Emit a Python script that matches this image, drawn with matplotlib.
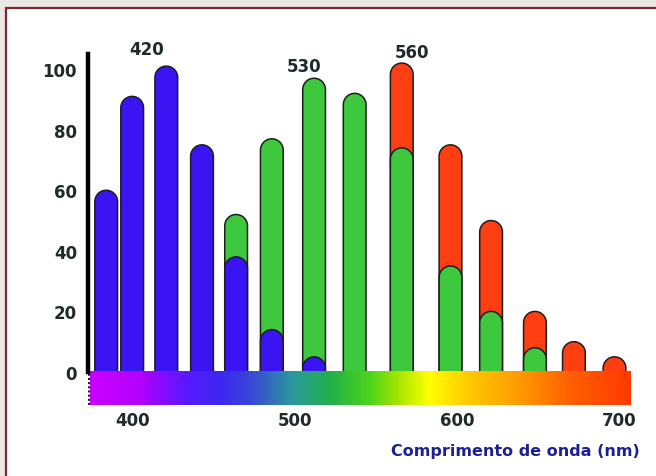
import numpy as np
import matplotlib
matplotlib.use("Agg")
import matplotlib.pyplot as plt
from matplotlib.patches import Polygon, Rectangle
from matplotlib.colors import LinearSegmentedColormap

# ---------------- data ----------------
wavelengths = [384, 400, 421, 443, 464, 486, 512, 537, 566, 596, 621, 648, 672, 697]
blue_part  = [60, 91, 101, 75, 38, 14, 5, 0, 0, 0, 0, 0, 0, 0]
green_part = [0, 0, 0, 0, 14, 63, 92, 92, 74, 35, 20, 8, 0, 0]
red_part   = [0, 0, 0, 0, 0, 0, 0, 0, 28, 40, 30, 12, 10, 5]

peak_labels = ["420", "530", "560"]
peak_label_x = [409, 506, 572]
peak_label_y = [106.5, 101, 105.5]

x_ticks = [400, 500, 600, 700]
y_ticks = [0, 20, 40, 60, 80, 100]

spec_nm = [374, 404, 432, 454, 473, 499, 522, 546, 563, 583, 608, 639, 670, 707]
spec_col = ["#c800ff", "#b400ff", "#5a18ff", "#3c28f0", "#3848d8", "#2a9a9a",
            "#22b04a", "#4cd41c", "#a0e400", "#ffff00", "#ffc800", "#ff9a00",
            "#ff6000", "#ff3a00"]

# ---------------- figure ----------------
W, H = 656, 477
fig = plt.figure(figsize=(W / 100, H / 100), dpi=100, facecolor="#ebe7e4")
panel = Rectangle((6 / W, -0.1), 1.0, 1 - 9 / H + 0.1, transform=fig.transFigure,
                  facecolor="white", edgecolor="#7b2630", linewidth=1.6, zorder=-5)
fig.patches.append(panel)

left_px, right_px, top_px, bot_px = 88, 640, 55, 406
ax = fig.add_axes([left_px / W, 1 - bot_px / H, (right_px - left_px) / W, (bot_px - top_px) / H])
ax.set_zorder(2)
ax.set_facecolor("none")
xlim = (372.8, 712.7)
ylim = (-10.9, 105)
ax.set_xlim(*xlim)
ax.set_ylim(*ylim)

px_per_nm = (right_px - left_px) / (xlim[1] - xlim[0])
px_per_unit = (bot_px - top_px) / (ylim[1] - ylim[0])

bar_w = 14.0
ry = (bar_w / 2 * px_per_nm) / px_per_unit
t = np.linspace(np.pi, 0, 40)

def rounded_bar(x, top, color, z):
    y0 = -1.0
    xs = [x - bar_w / 2]
    ys = [y0]
    cy = top - ry
    xs += list(x + bar_w / 2 * np.cos(t))
    ys += list(cy + ry * np.sin(t))
    xs += [x + bar_w / 2]
    ys += [y0]
    poly = Polygon(np.column_stack([xs, ys]), closed=True, facecolor=color,
                   edgecolor="#1e1e1e", linewidth=1.1, zorder=z)
    ax.add_patch(poly)

blue_c, green_c, red_c = "#3a14f2", "#3ec83e", "#ff3f12"
for x, b, g, r in zip(wavelengths, blue_part, green_part, red_part):
    if r > 0:
        rounded_bar(x, b + g + r, red_c, 2)
    if g > 0:
        rounded_bar(x, b + g, green_c, 3)
    if b > 0:
        rounded_bar(x, b, blue_c, 4)

# spectrum strip
cmap = LinearSegmentedColormap.from_list(
    "spec", [((n - spec_nm[0]) / (spec_nm[-1] - spec_nm[0]), c) for n, c in zip(spec_nm, spec_col)])
grad = np.linspace(0, 1, 600).reshape(1, -1)
ax.imshow(grad, cmap=cmap, aspect="auto", extent=[spec_nm[0], spec_nm[-1], -10.9, 0],
          zorder=6, interpolation="bilinear")

# axes styling
for s in ["top", "right", "bottom"]:
    ax.spines[s].set_visible(False)
ax.spines["left"].set_linewidth(3.2)
ax.spines["left"].set_color("black")
ax.spines["left"].set_bounds(0, 105)
ax.spines["left"].set_zorder(7)
ax.plot([xlim[0] + 0.6, xlim[0] + 0.6], [-10.9, 0], color="#202020", lw=1.5,
        ls=(0, (1, 1)), zorder=7, clip_on=False)

tick_col = "#1f2a2a"
ax.set_yticks(y_ticks)
ax.set_yticklabels([str(v) for v in y_ticks])
ax.set_xticks(x_ticks)
ax.set_xticklabels([str(v) for v in x_ticks])
ax.tick_params(axis="y", length=0, pad=8, labelsize=12, labelcolor=tick_col)
ax.tick_params(axis="x", length=0, pad=4, labelsize=12, labelcolor=tick_col)
for lab in ax.get_xticklabels() + ax.get_yticklabels():
    lab.set_fontweight("bold")
    lab.set_family("DejaVu Sans")

for txt, lx, ly in zip(peak_labels, peak_label_x, peak_label_y):
    ax.text(lx, ly, txt, ha="center", va="center", fontsize=12, fontweight="bold",
            color=tick_col, family="DejaVu Sans", clip_on=False)

fig.text(640 / W, 1 - 452 / H, "Comprimento de onda (nm)", ha="right", va="center",
         fontsize=11.5, fontweight="bold", color="#1c2090", family="DejaVu Sans")

fig.savefig("out.png", dpi=100, facecolor=fig.get_facecolor())
